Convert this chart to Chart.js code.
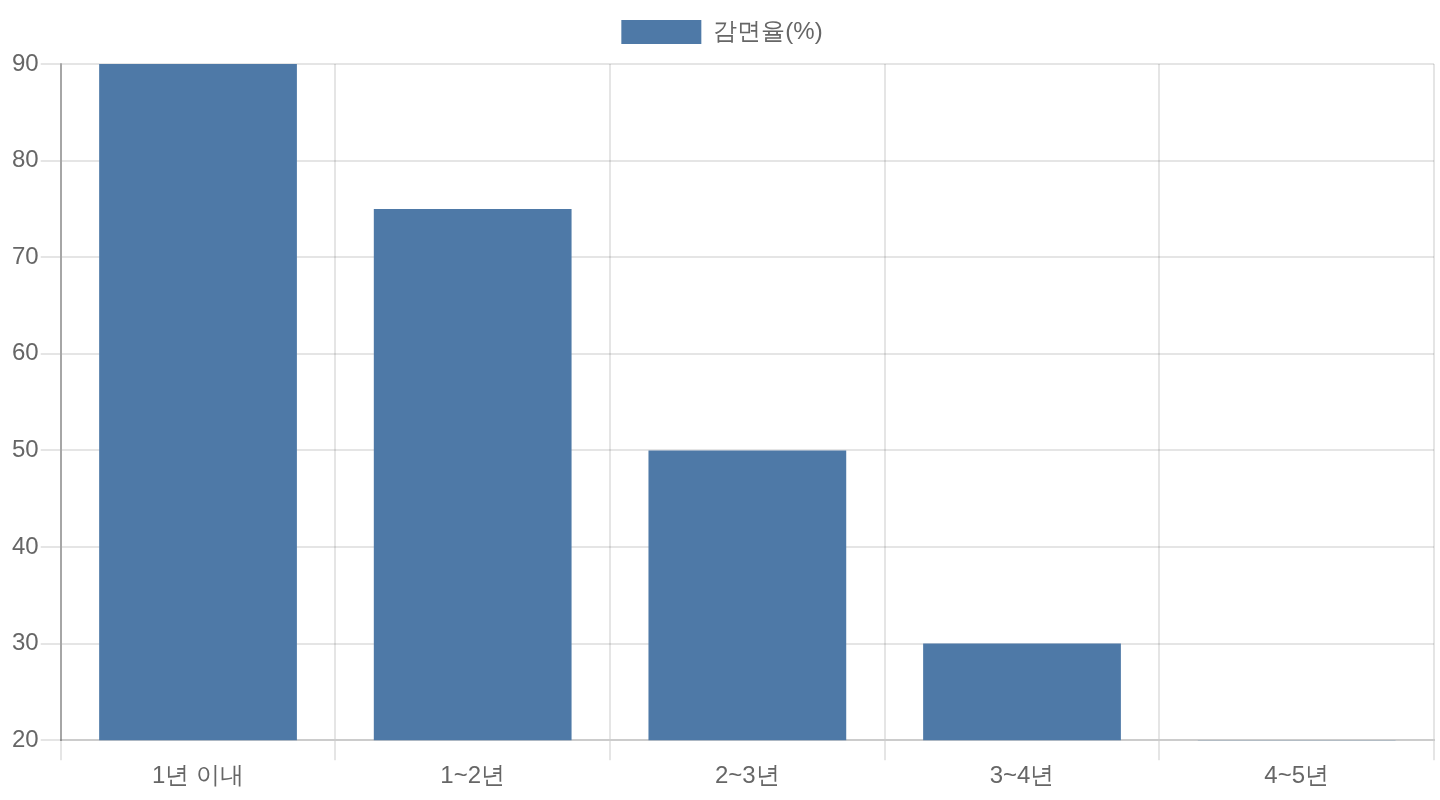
<!DOCTYPE html>
<html>
<head>
<meta charset="utf-8">
<script src="https://cdn.jsdelivr.net/npm/chart.js@4.4.0/dist/chart.umd.min.js"></script>
<style>
  html, body { margin: 0; padding: 0; background: #fff; }
  #wrap { width: 1440px; height: 800px; }
</style>
</head>
<body>
<div id="wrap"><canvas id="reductionChart" width="1440" height="800"></canvas></div>
<script>
// data
const labels = ['1년 이내', '1~2년', '2~3년', '3~4년', '4~5년'];
const reductionRate = [90, 75, 50, 30, 20];
const seriesName = '감면율(%)';
const yMin = 20;
const yMax = 90;
const yStep = 10;

const FONT = { family: "'Liberation Sans', Arial, sans-serif", size: 24 };
const GRID = 'rgba(0,0,0,0.1)';

// extra gap under the legend
const legendGap = {
  id: 'legendGap',
  beforeInit(chart) {
    const fit = chart.legend.fit;
    chart.legend.fit = function () {
      fit.bind(chart.legend)();
      this.height += 10;
    };
  }
};

const ctx = document.getElementById('reductionChart').getContext('2d');
new Chart(ctx, {
  type: 'bar',
  data: {
    labels: labels,
    datasets: [{
      label: seriesName,
      data: reductionRate,
      backgroundColor: '#4e79a7',
      borderWidth: 0,
      inflateAmount: 0
    }]
  },
  options: {
    responsive: false,
    animation: false,
    layout: { padding: { left: 10, right: 6, bottom: 7 } },
    plugins: {
      legend: {
        position: 'top',
        labels: {
          font: FONT,
          color: '#666',
          boxWidth: 80,
          boxHeight: 24,
          padding: 20
        }
      },
      tooltip: { enabled: false }
    },
    scales: {
      x: {
        z: 1, // axis line on top of the bars
        offset: true,
        grid: { color: GRID, lineWidth: 2, offset: true, tickLength: 20 },
        border: { color: '#cccccc', width: 2 },
        ticks: { font: FONT, color: '#666', padding: 2 }
      },
      y: {
        min: yMin,
        max: yMax,
        grid: { color: GRID, lineWidth: 2, tickLength: 20 },
        border: { color: 'rgba(0,0,0,0.28)', width: 2 },
        ticks: { stepSize: yStep, font: FONT, color: '#666', padding: 2 }
      }
    }
  },
  plugins: [legendGap]
});
</script>
</body>
</html>
